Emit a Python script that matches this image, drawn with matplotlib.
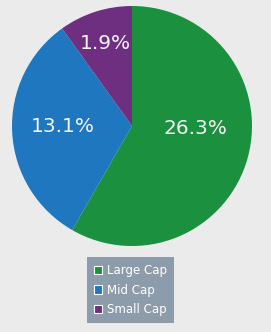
import matplotlib
matplotlib.use("Agg")
import matplotlib.pyplot as plt
from matplotlib.patches import Patch

# Data
categories = ["Large Cap", "Mid Cap", "Small Cap"]
slice_sizes = [58.3, 31.8, 9.9]          # apparent slice shares
slice_labels = ["26.3%", "13.1%", "1.9%"]  # printed labels
colors = ["#1b9140", "#1f77c0", "#6e2f80"]
label_pos = [(0.53, -0.02), (-0.575, 0.0), (-0.225, 0.69)]

bg = "#ebebeb"
fig = plt.figure(figsize=(2.71, 3.32), dpi=100, facecolor=bg)
ax = fig.add_axes([12/271, (332-246)/332, 240/271, 240/332])
ax.set_facecolor(bg)

wedges, _ = ax.pie(slice_sizes, colors=colors, startangle=90, counterclock=False,
                   radius=1.0, wedgeprops=dict(linewidth=0))
for lab, (x, y) in zip(slice_labels, label_pos):
    ax.text(x, y, lab, ha="center", va="center",
            color="#f4f4f4", fontsize=14.5, family="DejaVu Sans")
ax.set_xlim(-1, 1)
ax.set_ylim(-1, 1)
ax.set_aspect("equal")
ax.axis("off")

handles = [Patch(facecolor=c, edgecolor="white", linewidth=0.8) for c in colors]
leg = fig.legend(handles, categories, loc="upper center", bbox_to_anchor=(130.5/271, 75/332),
                 frameon=True, fancybox=False, facecolor="#8d9cab", edgecolor="none",
                 framealpha=1, fontsize=8.5, labelcolor="white", handlelength=0.7,
                 handleheight=0.7, handletextpad=0.45, labelspacing=0.55, borderpad=0.6,
                 borderaxespad=0)
fig.savefig("out.png", dpi=100, facecolor=bg)
